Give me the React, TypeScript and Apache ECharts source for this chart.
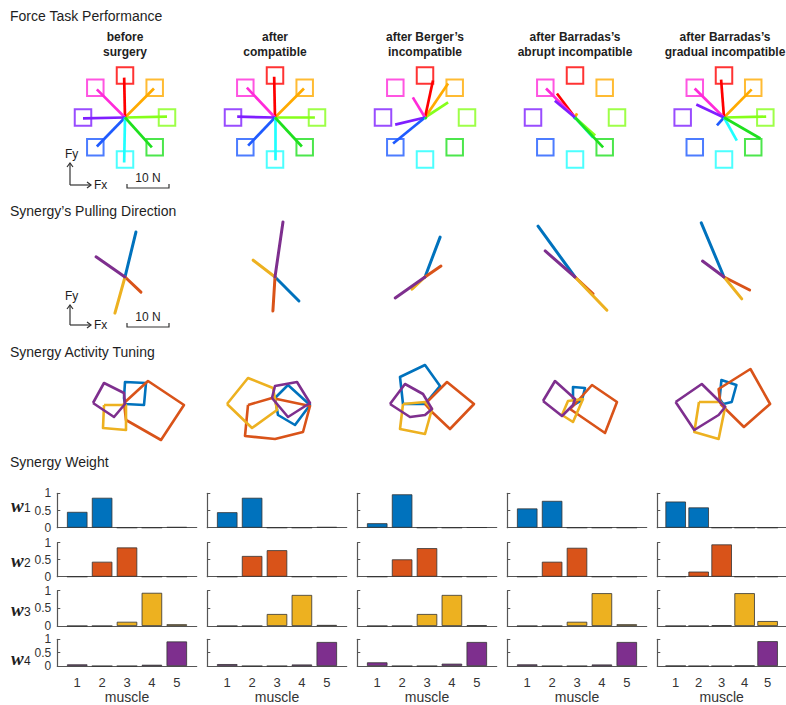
import { useEffect, useRef } from "react";
import * as echarts from "echarts";

// ---------------- data ----------------
const sectionTitles = [
  "Force Task Performance",
  "Synergy’s Pulling Direction",
  "Synergy Activity Tuning",
  "Synergy Weight",
];
const conditionTitles = [
  "before\nsurgery",
  "after\ncompatible",
  "after Berger’s\nincompatible",
  "after Barradas’s\nabrupt incompatible",
  "after Barradas’s\ngradual incompatible",
];

// force targets (deg) and their colours
const targetAngles = [0, 45, 90, 135, 180, 225, 270, 315];
const targetColors = ["#86ff1a", "#ffaa00", "#ff0000", "#ff2bd9", "#7f1fff", "#1f5bff", "#1fffff", "#1fe01f"];
const targetDistance = 10; // N

// produced force end points (N), per condition, per target direction
const forceX = [
  [10.0, 6.9, -0.2, -6.7, -10.0, -6.7, -0.2, 6.4],
  [9.5, 6.9, -0.2, -6.7, -9.0, -6.4, 0.0, 6.4],
  [5.5, 5.5, 1.9, -2.9, -7.1, -7.6, 0.2, 0.4],
  [4.8, 0.5, -4.3, -6.9, -4.8, -0.3, 4.3, 6.7],
  [10.2, 6.7, -0.7, -7.1, -6.7, -1.7, 3.1, 8.8],
];
const forceY = [
  [0.2, 6.9, 9.5, 6.7, -0.2, -6.9, -10.7, -7.1],
  [0.0, 6.9, 9.7, 7.1, 0.2, -6.7, -10.2, -6.9],
  [3.6, 8.1, 8.8, 4.8, -1.7, -6.2, -0.3, -0.3],
  [-4.3, 1.0, 5.7, 6.9, 4.0, -0.3, -4.8, -7.1],
  [0.2, 6.7, 9.0, 6.9, 3.1, -1.9, -5.5, -5.0],
];

// synergies
const synergyColors = ["#0072BD", "#D95319", "#EDB120", "#7E2F8E"];
const pullX = [
  [2.6, 3.8, -2.4, -6.9],
  [5.7, -0.5, -5.2, 1.9],
  [3.6, 3.8, -3.1, -7.1],
  [-8.8, 4.3, 7.6, -7.1],
  [-5.5, 6.2, 4.3, -5.2],
];
const pullY = [
  [10.7, -3.6, -8.6, 4.8],
  [-5.7, -8.1, 4.0, 13.1],
  [9.5, 2.6, -2.9, -5.0],
  [12.1, -4.0, -7.9, 6.2],
  [12.9, -3.1, -5.2, 3.8],
];

// activity tuning polygons (arbitrary units), per condition
const tuningBlue = [
  [[0, 0], [-0.1, 0.6], [0, 2.2], [2.1, 2.1], [1.9, -0.1]],
  [[0, 0.6], [1.3, 1.9], [3.5, -0.1], [2.0, -2.1], [0.3, -1.1]],
  [[0, 0], [-2.2, 0], [-2.5, 2.7], [0, 3.9], [1.5, 1.8]],
  [[-0.2, 0.5], [-0.2, 1.7], [1.0, 1.6], [0.7, 0.4], [0, 0]],
  [[-0.1, 0.5], [0.1, 2.4], [1.7, 1.9], [1.2, 0.2], [0.3, 0]],
];
const tuningRed = [
  [[-0.1, 0.1], [2.3, 2.3], [5.9, -0.1], [3.6, -3.6], [0.1, -1.6]],
  [[-2.7, -0.1], [-0.3, 0.6], [3.5, -0.2], [2.8, -2.8], [0, -3.5], [-3.0, -3.2]],
  [[0, 0], [2.2, 2.2], [4.9, 0], [2.5, -2.5], [0.7, -0.8]],
  [[0, 0], [1.7, 1.9], [4.2, 0.2], [3.0, -2.9], [-0.5, -0.5]],
  [[0, 0], [-0.2, 1.5], [3.2, 3.5], [5.3, 0], [2.5, -2.3]],
];
const tuningYellow = [
  [[-2.1, -0.1], [0.1, -0.1], [0.1, -2.6], [-2.2, -2.4]],
  [[-4.8, 0], [-2.7, 2.6], [-0.2, 1.6], [0.2, -0.6], [-2.3, -2.4]],
  [[-2.2, 0], [0, 0.2], [0.7, -0.5], [0, -3.0], [-2.5, -2.5]],
  [[-1.3, -1.1], [-0.7, 0.3], [0.8, 0.5], [-0.2, -1.8]],
  [[-2.3, 0.2], [0, 0.2], [0.5, -0.3], [-0.2, -3.5], [-2.8, -2.8]],
];
const tuningPurple = [
  [[-3.2, 0.1], [-2.1, 2.1], [-0.1, 1.1], [0, 0], [-1.1, -1.3]],
  [[-0.3, 0.6], [0, 1.8], [2.2, 2.2], [3.5, 0.1], [1.3, -1.3]],
  [[-3.5, 0], [-2.0, 2.0], [-0.2, 1.0], [0.7, -0.5], [0, -1.1], [-1.5, -1.3]],
  [[-3.2, 0.3], [-2.0, 2.3], [0, 0.5], [-0.2, -0.1], [-1.3, -1.2]],
  [[-4.8, 0.2], [-2.0, 2.0], [0.5, -0.3], [-0.2, -1.1], [-2.8, -2.6]],
];
const tuning = [tuningBlue, tuningRed, tuningYellow, tuningPurple];

// synergy weights: [condition][synergy][muscle]
const muscles = [1, 2, 3, 4, 5];
const weightsBefore = [[0.46, 0.87, 0, 0, 0.02], [0, 0.44, 0.86, 0, 0], [0, 0, 0.12, 0.94, 0.05], [0.065, 0, 0, 0.05, 0.92]];
const weightsCompatible = [[0.45, 0.87, 0, 0, 0.02], [0, 0.61, 0.78, 0, 0], [0, 0, 0.34, 0.88, 0.03], [0.075, 0, 0, 0.06, 0.9]];
const weightsBerger = [[0.13, 0.97, 0, 0, 0.01], [0, 0.51, 0.84, 0, 0], [0, 0, 0.34, 0.88, 0.02], [0.14, 0, 0, 0.09, 0.9]];
const weightsAbrupt = [[0.56, 0.78, 0, 0, 0], [0, 0.44, 0.85, 0, 0], [0, 0, 0.12, 0.93, 0.05], [0.065, 0, 0, 0.06, 0.9]];
const weightsGradual = [[0.76, 0.59, 0, 0, 0], [0, 0.15, 0.95, 0, 0], [0, 0, 0.02, 0.93, 0.14], [0.01, 0, 0, 0.02, 0.93]];
const weights = [weightsBefore, weightsCompatible, weightsBerger, weightsAbrupt, weightsGradual];
const weightAxisTicks = [0, 0.5, 1];

// ---------------- layout ----------------
const FONT = "'Liberation Sans', Arial, Helvetica, sans-serif";
const TXT = "#1e1e1e";
const AX = "#555";
const colX = [125, 275, 425, 575, 725];
const row1Y = 117.5;
const row2Y = 277;
const row3Y = 404;
const barLeft0 = 57.3;
const barWidthPx = 139.4;
const barTops = [493.3, 542.7, 590.7, 639.3];
const barHeights = [34.4, 34, 35.3, 35.7];
const titleY = [16, 211, 352, 462];
const wLabelY = [505, 560, 609, 658];

function text(x: number, y: number, t: string, opts: any = {}) {
  const align = opts.align || "left";
  return {
    type: "text",
    x,
    y,
    silent: true,
    style: {
      text: t,
      fill: opts.fill || TXT,
      fontSize: opts.fontSize || 14,
      fontFamily: opts.fontFamily || FONT,
      fontWeight: opts.fontWeight || "normal",
      fontStyle: opts.fontStyle || "normal",
      lineHeight: opts.lineHeight,
      align,
      textAlign: align,
      verticalAlign: "middle",
      textVerticalAlign: "middle",
    },
  };
}
function poly(points: number[][]) {
  return {
    type: "polyline",
    silent: true,
    shape: { points },
    style: { stroke: "#333", lineWidth: 1.2, fill: null },
  };
}
function axesKey(y0: number, top: number, barY: number) {
  return [
    poly([[70, y0], [70, top]]),
    poly([[67, top + 4], [70, top], [73, top + 4]]),
    poly([[70, y0], [91, y0]]),
    poly([[87, y0 - 3], [91, y0], [87, y0 + 3]]),
    text(65, top - 9, "Fy", { fontSize: 12 }),
    text(94, y0, "Fx", { fontSize: 12 }),
    poly([[127, barY - 4], [127, barY], [169, barY], [169, barY - 4]]),
    text(148, barY - 10, "10 N", { fontSize: 12, align: "center" }),
  ];
}

function buildOption() {
  const grids: any[] = [];
  const xAxis: any[] = [];
  const yAxis: any[] = [];
  const series: any[] = [];
  const graphic: any[] = [];
  const addGrid = (g: any, xa: any, ya: any) => {
    const i = grids.length;
    grids.push(g);
    xAxis.push({ ...xa, gridIndex: i });
    yAxis.push({ ...ya, gridIndex: i });
    return i;
  };
  const hidden = (min: number, max: number) => ({ type: "value", min, max, show: false });

  conditionTitles.forEach((_, c) => {
    const cx = colX[c];
    // row 1: force task performance
    const g1 = addGrid({ left: cx - 63, top: row1Y - 63, width: 126, height: 126 }, hidden(-15, 15), hidden(-15, 15));
    series.push({
      type: "scatter",
      xAxisIndex: g1,
      yAxisIndex: g1,
      symbol: "rect",
      symbolSize: 16.5,
      silent: true,
      z: 2,
      data: targetAngles.map((a, d) => ({
        value: [targetDistance * Math.cos((a * Math.PI) / 180), targetDistance * Math.sin((a * Math.PI) / 180)],
        itemStyle: { color: "rgba(255,255,255,0)", borderColor: targetColors[d], borderWidth: 2 },
      })),
    });
    series.push({
      type: "lines",
      coordinateSystem: "cartesian2d",
      xAxisIndex: g1,
      yAxisIndex: g1,
      silent: true,
      z: 3,
      lineStyle: { width: 2.7, opacity: 1, curveness: 0 },
      data: targetAngles.map((_a, d) => ({
        coords: [[0, 0], [forceX[c][d], forceY[c][d]]],
        lineStyle: { color: targetColors[d], width: 2.7, opacity: 1 },
      })),
    });

    // row 2: pulling directions
    const g2 = addGrid({ left: cx - 63, top: row2Y - 63, width: 126, height: 126 }, hidden(-15, 15), hidden(-15, 15));
    series.push({
      type: "lines",
      coordinateSystem: "cartesian2d",
      xAxisIndex: g2,
      yAxisIndex: g2,
      silent: true,
      z: 3,
      lineStyle: { width: 3, opacity: 1, curveness: 0, cap: "round" },
      data: synergyColors.map((col, s) => ({
        coords: [[0, 0], [pullX[c][s], pullY[c][s]]],
        lineStyle: { color: col, width: 3, opacity: 1, cap: "round" },
      })),
    });

    // row 3: activity tuning
    const g3 = addGrid({ left: cx - 70, top: row3Y - 50, width: 140, height: 100 }, hidden(-7, 7), hidden(-5, 5));
    synergyColors.forEach((col, s) => {
      const pts = tuning[s][c];
      series.push({
        type: "line",
        xAxisIndex: g3,
        yAxisIndex: g3,
        silent: true,
        symbol: "none",
        clip: false,
        lineStyle: { color: col, width: 2.6, join: "round" },
        data: [...pts, pts[0]],
      });
    });
  });

  // row 4: synergy weights
  for (let r = 0; r < 4; r++) {
    for (let c = 0; c < 5; c++) {
      const g = addGrid(
        { left: barLeft0 + 150 * c, top: barTops[r], width: barWidthPx, height: barHeights[r] },
        {
          type: "value",
          min: 0.2,
          max: 5.8,
          axisLine: { show: true, onZero: false, lineStyle: { color: AX, width: 1.2 } },
          axisTick: { show: false },
          splitLine: { show: false },
          axisLabel: {
            show: r === 3,
            customValues: muscles,
            fontSize: 13,
            color: "#333",
            margin: 10,
            fontFamily: FONT,
            formatter: (v: number) => String(v),
          },
          name: r === 3 ? "muscle" : "",
          nameLocation: "middle",
          nameGap: 23,
          nameTextStyle: { fontSize: 14, color: "#333", fontFamily: FONT },
        },
        {
          type: "value",
          min: 0,
          max: 1,
          interval: 0.5,
          axisLine: { show: true, lineStyle: { color: AX, width: 1.2 } },
          axisTick: { show: true, inside: true, length: 3, lineStyle: { color: AX, width: 1 } },
          splitLine: { show: false },
          axisLabel: {
            show: c === 0,
            customValues: weightAxisTicks,
            fontSize: 12,
            color: "#333",
            margin: 6,
            fontFamily: FONT,
          },
        }
      );
      series.push({
        type: "bar",
        xAxisIndex: g,
        yAxisIndex: g,
        silent: true,
        barWidth: 20.5,
        itemStyle: { color: synergyColors[r], borderColor: "#333", borderWidth: 0.8 },
        data: muscles.map((m, i) => [m, weights[c][r][i]]),
      });
    }
  }

  // texts
  sectionTitles.forEach((t, i) => graphic.push(text(10, titleY[i], t, { fontSize: 14 })));
  conditionTitles.forEach((t, c) =>
    graphic.push(text(colX[c], 44.5, t, { fontSize: 12, fontWeight: "bold", align: "center", lineHeight: 15 }))
  );
  graphic.push(...axesKey(185, 163, 188));
  graphic.push(...axesKey(325, 305, 327));
  wLabelY.forEach((y, r) => {
    graphic.push(
      text(11, y, "w", { fontSize: 19, fontWeight: "bold", fontStyle: "italic", fontFamily: "'Liberation Serif', 'DejaVu Serif', serif" })
    );
    graphic.push(text(24, y + 3, String(r + 1), { fontSize: 12 }));
  });

  return {
    animation: false,
    backgroundColor: "#ffffff",
    grid: grids,
    xAxis,
    yAxis,
    series,
    graphic: { elements: graphic },
  };
}

export default function App() {
  const ref = useRef<HTMLDivElement>(null);
  useEffect(() => {
    const chart = echarts.init(ref.current as HTMLDivElement, null, { renderer: "svg" });
    chart.setOption(buildOption() as any);
    return () => chart.dispose();
  }, []);
  return (
    <div
      ref={ref}
      style={{ position: "fixed", left: 0, top: 0, width: 786, height: 705, background: "#fff" }}
    />
  );
}
